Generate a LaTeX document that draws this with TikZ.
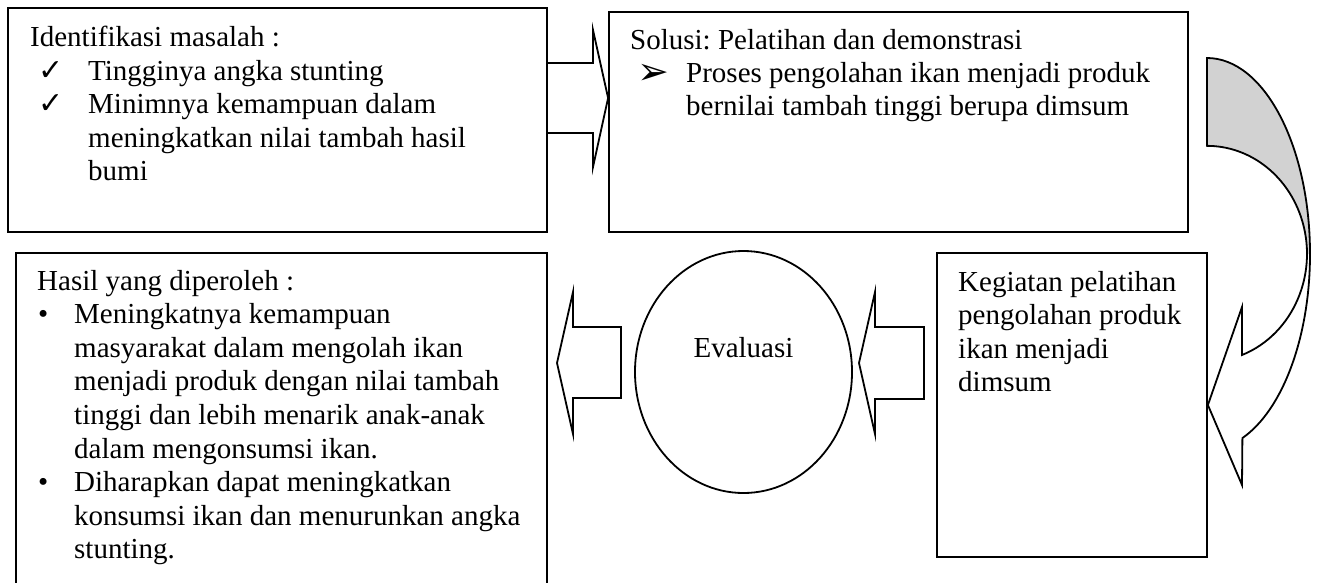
\documentclass[tikz,border=0pt]{standalone}
\usepackage{fontspec}
\setmainfont{Liberation Serif}
\newfontfamily\symfont{DejaVu Sans}
\usetikzlibrary{shapes.geometric}
\frenchspacing
\newcommand\fs{\fontsize{29}{33.6}\selectfont}
\newcommand\mylines[1]{\begin{tabular}[t]{@{}l@{}}#1\end{tabular}}
\tikzset{
  box/.style={draw, line width=1.8pt, inner sep=0pt},
  txt/.style={anchor=base west, inner sep=0pt, font=\fs},
  chk/.style={anchor=base west, inner sep=0pt, font=\symfont\fontsize{30}{30}\selectfont},
  arrowbullet/.style={anchor=base west, inner sep=0pt, font=\symfont\fontsize{38}{38}\selectfont},
  blockarrow/.style={draw, line width=1.8pt, line join=miter},
}
\begin{document}
\begin{tikzpicture}[x=1pt, y=-1pt]
\useasboundingbox (0,0) rectangle (1317,582);
% boxes
\node[box, minimum width=539, minimum height=224] (b1) at (277.5,120) {};
\node[box, minimum width=579, minimum height=220] (b2) at (898.5,122) {};
\node[box, minimum width=270, minimum height=304] (b3) at (1072,405) {};
\node[box, minimum width=531, minimum height=350] (b4) at (281.5,428) {};
\node[box, ellipse, minimum width=217, minimum height=242] (ev) at (743.5,372) {};
% texts box 1
\node[txt] (t1) at (30,46.5) {Identifikasi masalah :};
\node[chk] (c1) at (38,80) {✓};
\node[chk] (c2) at (38,113.6) {✓};
\node[txt] (t1a) at (88,80) {\mylines{Tingginya angka stunting\\Minimnya kemampuan dalam\\meningkatkan nilai tambah hasil\\bumi}};
% texts box 2
\node[txt] (t2) at (630,49) {Solusi: Pelatihan dan demonstrasi};
\node[arrowbullet] (c3) at (637,84) {➢};
\node[txt] (t2a) at (686,82) {\mylines{Proses pengolahan ikan menjadi produk\\bernilai tambah tinggi berupa dimsum}};
% texts box 3
\node[txt] (t3) at (958,291) {\mylines{Kegiatan pelatihan\\pengolahan produk\\ikan menjadi\\dimsum}};
% texts box 4
\node[txt] (t4) at (37,290) {Hasil yang diperoleh :};
\node[txt] (d1) at (38,323.6) {•};
\node[txt] (d2) at (38,491.6) {•};
\node[txt] (t4a) at (74,323.6) {\mylines{Meningkatnya kemampuan\\masyarakat dalam mengolah ikan\\menjadi produk dengan nilai tambah\\tinggi dan lebih menarik anak-anak\\dalam mengonsumsi ikan.}};
\node[txt] (t4b) at (74,491.6) {\mylines{Diharapkan dapat meningkatkan\\konsumsi ikan dan menurunkan angka\\stunting.}};
% evaluasi text
\node[anchor=base, inner sep=0pt, font=\fs] (evt) at (743.5,357) {Evaluasi};
% right block arrow b1 -> b2
\draw[blockarrow] (b1.east |- 0,63) -- (593,63) -- (593,30) -- (b2.west |- 0,98) -- (593,167) -- (593,133) -- (b1.east |- 0,133);
% left block arrow ev -> b4
\draw[blockarrow] (621,327) -- (573,327) -- (573,292) -- (557,363) -- (573,434) -- (573,398) -- (621,398) -- cycle;
% left block arrow b3 -> ev
\draw[blockarrow] (924,327) -- (875,327) -- (875,292) -- (859,363) -- (875,434) -- (875,399) -- (924,399) -- cycle;
% curved arrow b2 -> b3
\fill[gray!35] (1207,58) arc[start angle=-90, end angle=0, x radius=103, y radius=196] -- (1307,254) arc[start angle=0, end angle=-90, x radius=100, y radius=108] -- cycle;
\draw[blockarrow] (1207,58) arc[start angle=-90, end angle=69.9, x radius=103, y radius=196] -- (1242,485) -- (b3.east |- 0,405) -- (1242,307) -- (1242,355) arc[start angle=69.5, end angle=-90, x radius=100, y radius=108] -- cycle;
\end{tikzpicture}
\end{document}
